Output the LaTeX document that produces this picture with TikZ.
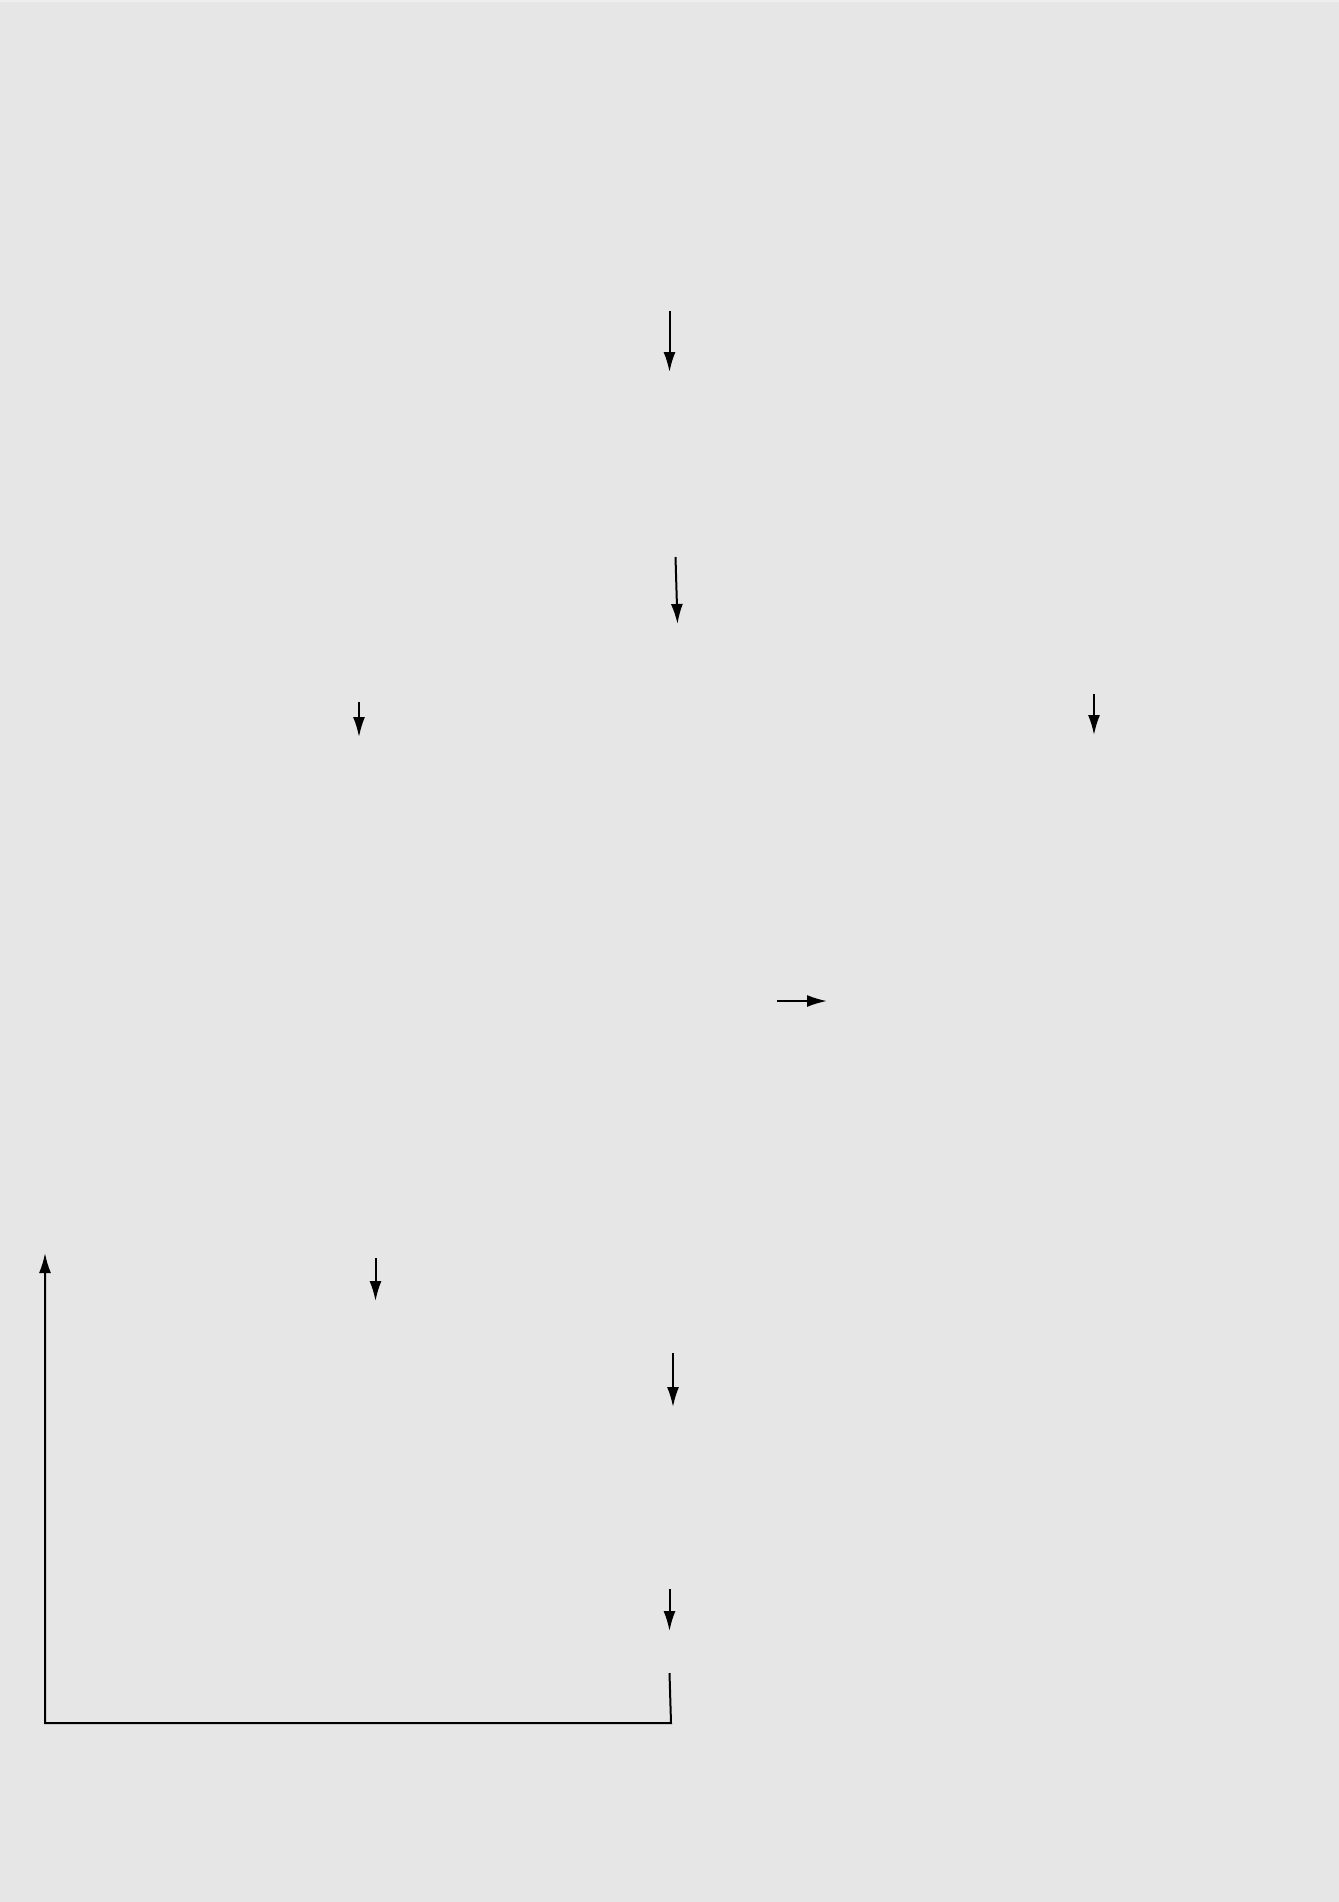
\documentclass[tikz,border=0pt]{standalone}
\usetikzlibrary{arrows.meta}
\definecolor{bggray}{HTML}{E6E6E6}
\definecolor{topstrip}{HTML}{EEEEEE}
\tikzset{
  conn/.style={draw=black, line width=1pt, -{Latex[length=10pt,width=6pt]}},
  plainline/.style={draw=black, line width=1pt}
}
\begin{document}
\begin{tikzpicture}[x=0.5pt,y=-0.5pt]
\fill[bggray] (0,0) rectangle (1339,1902);
\fill[topstrip] (0,0) rectangle (1339,2);
\useasboundingbox (0,0) rectangle (1339,1902);
% endpoints
\coordinate (a1s) at (669.5,311);
\coordinate (a1e) at (669.5,372);
\coordinate (a2s) at (675.5,557);
\coordinate (a2e) at (677.5,624);
\coordinate (a3s) at (359,702);
\coordinate (a3e) at (359,737);
\coordinate (a4s) at (1094,694);
\coordinate (a4e) at (1094,735);
\coordinate (a5s) at (777,1001);
\coordinate (a5e) at (827,1001);
\coordinate (a7s) at (375.5,1258);
\coordinate (a7e) at (375.5,1301);
\coordinate (a8s) at (673,1353);
\coordinate (a8e) at (673,1407);
\coordinate (a9s) at (669.5,1589);
\coordinate (a9e) at (669.5,1631);
\coordinate (lbs) at (669.5,1673);
\coordinate (lbc) at (671,1723);
\coordinate (lbl) at (45,1723);
\coordinate (lbe) at (45,1253);
% connectors
\draw[conn] (a1s) -- (a1e);
\draw[conn] (a2s) -- (a2e);
\draw[conn] (a3s) -- (a3e);
\draw[conn] (a4s) -- (a4e);
\draw[conn] (a5s) -- (a5e);
\draw[conn] (a7s) -- (a7e);
\draw[conn] (a8s) -- (a8e);
\draw[conn] (a9s) -- (a9e);
\draw[conn] (lbs) -- (lbc) -- (lbl) -- (lbe);
\end{tikzpicture}
\end{document}
